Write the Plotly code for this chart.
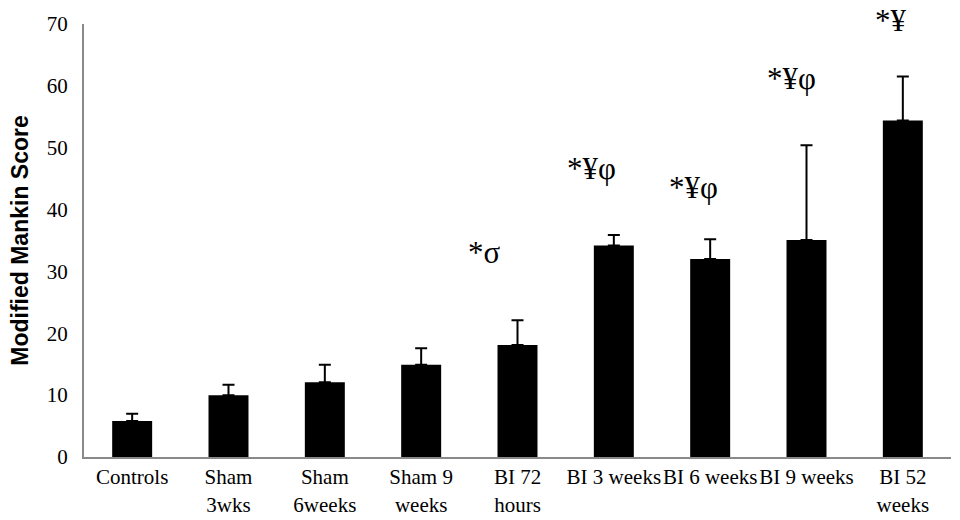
import plotly.graph_objects as go

categories = ["Controls", "Sham<br>3wks", "Sham<br>6weeks", "Sham 9<br>weeks", "BI 72<br>hours",
              "BI 3 weeks", "BI 6 weeks", "BI 9 weeks", "BI 52<br>weeks"]
scores = [5.8, 10.0, 12.1, 14.9, 18.1, 34.2, 32.0, 35.1, 54.4]
errors = [1.2, 1.7, 2.8, 2.7, 4.0, 1.7, 3.2, 15.3, 7.1]

# significance marks: (category index, label, y position, horizontal nudge in px)
sig_idx = [4, 5, 6, 7, 8]
sig_text = ["*σ", "*¥φ", "*¥φ", "*¥φ", "*¥"]
sig_y = [33.0, 46.7, 43.6, 61.2, 70.6]
sig_shift = [-33, -22, -17, -15, -12]

serif = "Liberation Serif"
px_per_unit = 433 / 70

fig = go.Figure(go.Bar(
    x=categories, y=scores,
    marker=dict(color="black", line=dict(width=0)),
    error_y=dict(type="data", symmetric=False, array=errors,
                 arrayminus=[0] * len(errors), color="black",
                 thickness=2, width=6),
))

for i, t, yv, sh in zip(sig_idx, sig_text, sig_y, sig_shift):
    # marks above the axis top are anchored at the top and pushed up
    anchor = min(yv, 70)
    fig.add_annotation(x=categories[i], y=anchor, text=t, showarrow=False,
                       xshift=sh, yshift=(yv - anchor) * px_per_unit,
                       font=dict(family=serif, size=31, color="black"),
                       yanchor="middle")

fig.update_layout(
    width=960, height=520,
    margin=dict(l=84, r=9, t=24, b=63),
    paper_bgcolor="white", plot_bgcolor="white",
    showlegend=False, bargap=0.585,
    font=dict(family=serif, size=21, color="black"),
)
fig.update_xaxes(showline=True, linecolor="#898989", linewidth=2, ticks="",
                 showgrid=False, tickangle=0, automargin=False,
                 tickfont=dict(family=serif, size=21, color="black"))
fig.update_yaxes(range=[0, 70], dtick=10, showline=True, linecolor="#898989",
                 linewidth=2, ticks="", showgrid=False, zeroline=False,
                 ticklabelstandoff=10, automargin=False,
                 tickfont=dict(family=serif, size=21, color="black"),
                 title=dict(text="<b>Modified Mankin Score</b>", standoff=12,
                            font=dict(family="Liberation Sans", size=23, color="black")))

fig.write_html("out.html")
